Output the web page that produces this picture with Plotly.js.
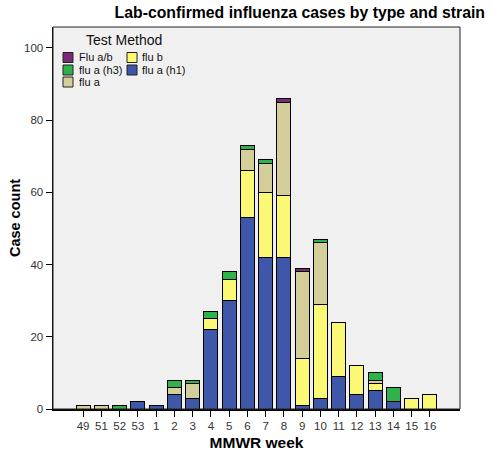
<!DOCTYPE html>
<html>
<head>
<meta charset="utf-8">
<script src="https://cdn.plot.ly/plotly-3.0.1.min.js"></script>
<style>html,body{margin:0;padding:0;background:#fff}#chart{width:491px;height:453px}</style>
</head>
<body>
<div id="chart"></div>
<script>
// ---- data ----
const weeks = ['49','51','52','53','1','2','3','4','5','6','7','8','9','10','11','12','13','14','15','16'];
const fluAH1 = [0,0,0,2,1,4,3,22,30,53,42,42,1,3,9,4,5,2,0,0];
const fluB   = [0,0,0,0,0,0,0,3,6,13,18,17,13,26,15,8,2,0,3,4];
const fluA   = [1,1,0,0,0,2,4,0,0,6,8,26,24,17,0,0,1,0,0,0];
const fluAH3 = [0,0,1,0,0,2,1,2,2,1,1,0,0,1,0,0,2,4,0,0];
const fluAB  = [0,0,0,0,0,0,0,0,0,0,0,1,1,0,0,0,0,0,0,0];
const seriesNames = ['flu a (h1)','flu b','flu a','flu a (h3)','Flu a/b'];
const yTicks = [0,20,40,60,80,100];

// ---- styles ----
const colors = ['#3e57a8','#fbf876','#d4cf9a','#2db34a','#7b2a7b'];
const seriesValues = [fluAH1, fluB, fluA, fluAH3, fluAB];
const W = 491, H = 453;
const plotL = 53, plotR = 460, plotT = 27, plotB = 409;
const font = '"Liberation Sans", Arial, sans-serif';

const traces = seriesValues.map((vals, i) => ({
  type: 'bar', x: weeks, y: vals, name: seriesNames[i],
  marker: {color: colors[i], line: {color: '#000', width: 1}},
  hoverinfo: 'x+y+name'
}));

// custom legend (paper coords converted from pixel positions)
const px = x => (x - plotL) / (plotR - plotL);
const py = y => (plotB - y) / (plotB - plotT);
const legendSlots = {
  'Flu a/b':    {sx: 63,  tx: 77,  y: 57.5},
  'flu a (h3)': {sx: 63,  tx: 77,  y: 70},
  'flu a':      {sx: 63,  tx: 77,  y: 82},
  'flu b':      {sx: 127, tx: 140, y: 57.5},
  'flu a (h1)': {sx: 127, tx: 140, y: 70}
};
const shapes = [{
  type: 'rect', xref: 'paper', yref: 'paper', x0: 0, x1: 1, y0: 0, y1: 1,
  line: {color: '#222', width: 1}, fillcolor: 'rgba(0,0,0,0)', layer: 'above'
}];
const annotations = [{
  xref: 'paper', yref: 'paper', x: px(124), y: py(40), xanchor: 'center', yanchor: 'middle',
  text: 'Test Method', showarrow: false, font: {family: font, size: 14, color: '#111'}
}];
seriesNames.forEach((n, i) => {
  const s = legendSlots[n];
  shapes.push({
    type: 'rect', xref: 'paper', yref: 'paper',
    x0: px(s.sx), x1: px(s.sx + 10), y0: py(s.y + 5), y1: py(s.y - 5),
    fillcolor: colors[i], line: {color: '#222', width: 1}
  });
  annotations.push({
    xref: 'paper', yref: 'paper', x: px(s.tx), y: py(s.y), xanchor: 'left', yanchor: 'middle',
    text: n, showarrow: false, font: {family: font, size: 11, color: '#111'}
  });
});

const layout = {
  width: W, height: H,
  margin: {l: plotL, r: W - plotR, t: plotT, b: H - plotB, pad: 0},
  paper_bgcolor: '#ffffff', plot_bgcolor: '#f0f0f0',
  barmode: 'stack', bargap: 0.23, showlegend: false,
  title: {
    text: '<b>Lab-confirmed influenza cases by type and strain</b>',
    xref: 'container', yref: 'container', x: 485 / W, xanchor: 'right',
    y: 1 - 12 / H, yanchor: 'middle',
    font: {family: font, size: 15.8, color: '#000'}
  },
  xaxis: {
    type: 'category', categoryorder: 'array', categoryarray: weeks,
    range: [-1.65, 20.65], showgrid: false, zeroline: false,
    showline: true, linecolor: '#000', linewidth: 1.5,
    ticks: 'outside', ticklen: 6, tickcolor: '#000', tickwidth: 1,
    tickfont: {family: font, size: 11.5, color: '#333'},
    title: {text: '<b>MMWR week</b>', standoff: 6, font: {family: font, size: 15.5, color: '#000'}},
    automargin: false, fixedrange: true
  },
  yaxis: {
    range: [0, 105.8], tickvals: yTicks, showgrid: false, zeroline: false,
    showline: true, linecolor: '#000', linewidth: 1.5,
    ticks: 'outside', ticklen: 6, tickcolor: '#000', tickwidth: 1,
    tickfont: {family: font, size: 11.5, color: '#333'},
    title: {text: '<b>Case count</b>', standoff: 0, font: {family: font, size: 14.5, color: '#000'}},
    automargin: false, fixedrange: true
  },
  shapes: shapes,
  annotations: annotations
};

Plotly.newPlot('chart', traces, layout, {displayModeBar: false, staticPlot: true});
</script>
</body>
</html>
